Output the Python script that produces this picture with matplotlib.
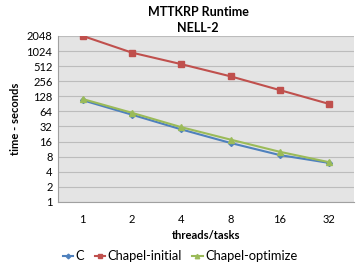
import numpy as np
import matplotlib
matplotlib.use("Agg")
import matplotlib.pyplot as plt

plt.rcParams['font.family'] = ['Lato', 'DejaVu Sans']

# data
threads = ['1', '2', '4', '8', '16', '32']
c_times = [107, 55, 28, 15, 8.6, 6.0]
chapel_initial = [2048, 950, 560, 320, 170, 90]
chapel_optimize = [113, 60, 31, 17.5, 10, 6.2]
yticks = [1, 2, 4, 8, 16, 32, 64, 128, 256, 512, 1024, 2048]

fig = plt.figure(figsize=(3.6, 2.7), dpi=100)
ax = fig.add_axes([0.161, 0.252, 0.822, 0.615])
ax.set_facecolor('#e4e4e4')

x = np.arange(len(threads))
ax.plot(x, c_times, '-D', color='#4f81bd', ms=3, lw=1.5, label='C')
ax.plot(x, chapel_initial, '-s', color='#c0504d', ms=4, lw=1.5, label='Chapel-initial')
ax.plot(x, chapel_optimize, '-^', color='#9bbb59', ms=4, lw=1.5, label='Chapel-optimize')

ax.set_yscale('log', base=2)
ax.set_ylim(1, 2048)
ax.set_yticks(yticks)
ax.set_yticklabels([str(v) for v in yticks])
ax.minorticks_off()
ax.set_xlim(-0.5, len(threads) - 0.5)
ax.set_xticks(x)
ax.set_xticklabels(threads)
ax.yaxis.grid(True, color='#bcbcbc', lw=0.8)
ax.set_axisbelow(True)
ax.tick_params(length=0, labelsize=8, pad=4)
ax.tick_params(axis='x', pad=9)
for s in ax.spines.values():
    s.set_color('#a0a0a0')
    s.set_linewidth(0.8)
ax.spines['top'].set_visible(False)
ax.spines['right'].set_visible(False)

ax.set_xlabel('threads/tasks', fontsize=8, fontweight='bold', labelpad=3)
ax.set_ylabel('time - seconds', fontsize=8, fontweight='bold', labelpad=4)
fig.text(0.55, 0.955, 'MTTKRP Runtime', ha='center', va='center', fontsize=9, fontweight='bold')
fig.text(0.55, 0.895, 'NELL-2', ha='center', va='center', fontsize=9, fontweight='bold')

leg = fig.legend(loc='center', bbox_to_anchor=(0.5, 0.05), ncol=3, frameon=False,
                 fontsize=9.3, handlelength=0.8, handletextpad=0.2, columnspacing=0.8,
                 markerscale=0.8)

fig.savefig('out.png', dpi=100)
